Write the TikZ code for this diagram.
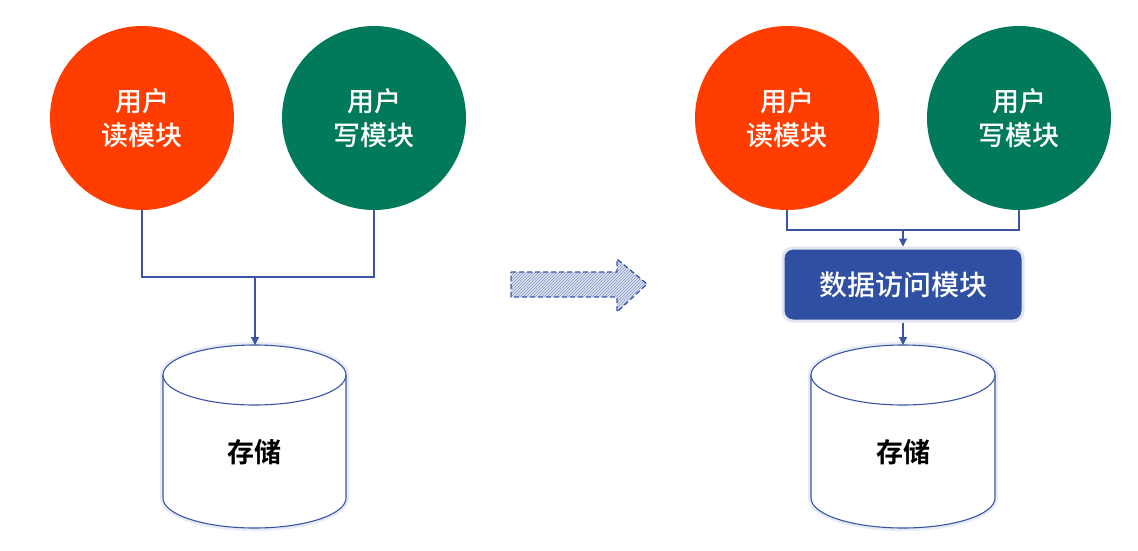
\documentclass[tikz,border=0pt]{standalone}
\usepackage{fontspec}
\newfontfamily\cjk{Noto Sans CJK SC Medium}
\newfontfamily\cjkb{Noto Sans CJK SC Bold}
\usetikzlibrary{patterns,arrows.meta,shapes.geometric}
\definecolor{orng}{HTML}{FF3D00}
\definecolor{grn}{HTML}{007A5A}
\definecolor{lnblue}{HTML}{3A55A6}
\definecolor{boxblue}{HTML}{2F4FA2}
\begin{document}
\begin{tikzpicture}[x=1pt,y=-1pt,
  circ/.style={circle,minimum size=184pt,inner sep=0pt,text=white,font=\cjk\fontsize{27}{34}\selectfont,align=center},
  conn/.style={draw=lnblue,line width=1.1pt},
  arr/.style={conn,-{Triangle[length=8pt,width=8pt]}},
  glow/.style={draw=lnblue!12,line width=6pt},
  dbbox/.style={fill=boxblue,rounded corners=10pt,text=white,font=\cjk\fontsize{28}{32}\selectfont,minimum width=240pt,minimum height=73pt,inner sep=0pt},
  lbl/.style={font=\cjkb\fontsize{27}{32}\selectfont,text=black}
]
\useasboundingbox (0,0) rectangle (1138,550);
\fill[white] (0,0) rectangle (1138,550);

% ---------- left ----------
\node[circ,fill=orng] (lr) at (142,118) {用户\\读模块};
\node[circ,fill=grn] (lw) at (374,118) {用户\\写模块};
\coordinate (lj) at (255,277);
\draw[conn] (lr.south) |- (lw.south |- lj) -- (lw.south);
% left cylinder
\coordinate (lcyl) at (255,345);
\draw[glow] (163,375) arc[start angle=180,end angle=360,x radius=91.5,y radius=30] -- (346,498) arc[start angle=0,end angle=180,x radius=91.5,y radius=30] -- cycle;
\filldraw[fill=white,draw=lnblue,line width=1.1pt] (163,375) arc[start angle=180,end angle=360,x radius=91.5,y radius=30] -- (346,498) arc[start angle=0,end angle=180,x radius=91.5,y radius=30] -- cycle;
\draw[draw=lnblue,line width=1.1pt] (163,375) arc[start angle=180,end angle=0,x radius=91.5,y radius=30];
\node[lbl] (ls) at (254,452) {存储};
\draw[arr] (lj) -- (lcyl);

% ---------- big arrow ----------
\path[fill=lnblue!18] (511,272) -- (617,272) -- (617,259) -- (647,284) -- (617,312) -- (617,297) -- (511,297) -- cycle;
\path[pattern=north east lines,pattern color=lnblue!60] (511,272) -- (617,272) -- (617,259) -- (647,284) -- (617,312) -- (617,297) -- (511,297) -- cycle;
\draw[lnblue,line width=1.3pt,dash pattern=on 5pt off 3pt] (511,272) -- (617,272) -- (617,259) -- (647,284) -- (617,312) -- (617,297) -- (511,297) -- cycle;

% ---------- right ----------
\node[circ,fill=orng] (rr) at (787,118) {用户\\读模块};
\node[circ,fill=grn] (rw) at (1019,118) {用户\\写模块};
\node[dbbox,draw=lnblue!15,line width=3pt] (da) at (903,284.5) {数据访问模块};
\coordinate (rj) at (903,230);
\draw[conn] (rr.south) |- (rw.south |- rj) -- (rw.south);
\draw[arr] (rj) -- (da.north);
\coordinate (rcyl) at (903,345);
\draw[glow] (811,375) arc[start angle=180,end angle=360,x radius=92,y radius=30] -- (995,498) arc[start angle=0,end angle=180,x radius=92,y radius=30] -- cycle;
\filldraw[fill=white,draw=lnblue,line width=1.1pt] (811,375) arc[start angle=180,end angle=360,x radius=92,y radius=30] -- (995,498) arc[start angle=0,end angle=180,x radius=92,y radius=30] -- cycle;
\draw[draw=lnblue,line width=1.1pt] (811,375) arc[start angle=180,end angle=0,x radius=92,y radius=30];
\node[lbl] (rs) at (903,452) {存储};
\draw[arr] (da.south) -- (rcyl);
\end{tikzpicture}
\end{document}
